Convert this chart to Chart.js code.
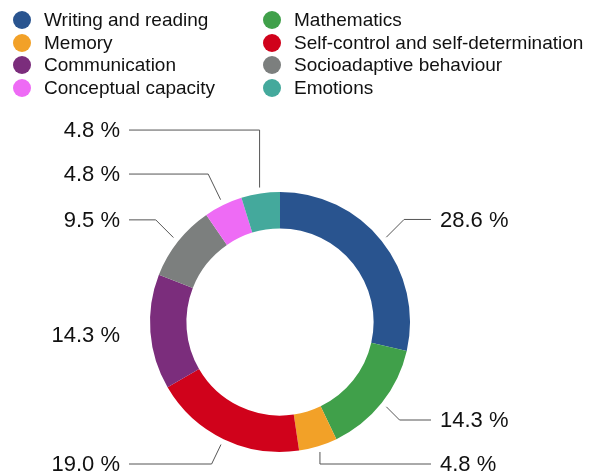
<!DOCTYPE html>
<html>
<head>
<meta charset="utf-8">
<script src="https://cdn.jsdelivr.net/npm/chart.js@4"></script>
<style>
  html, body { margin: 0; padding: 0; background: #fff; }
  #wrap { position: relative; width: 592px; height: 475px; overflow: hidden; }
  #c { position: absolute; left: 0; top: 0; }
  .lg { position: absolute; font-family: "Liberation Sans", Arial, Helvetica, sans-serif; font-size: 19px; color: #111; white-space: nowrap; line-height: 22px; }
  .lg .dot { position: absolute; left: 0; top: 2px; width: 18px; height: 18px; border-radius: 50%; }
  .lg .txt { position: absolute; left: 31px; top: 0; }
</style>
</head>
<body>
<div id="wrap">
  <canvas id="c" width="592" height="475"></canvas>
  <div id="legend"></div>
</div>
<script>
const categories = [
  "Writing and reading",
  "Mathematics",
  "Memory",
  "Self-control and self-determination",
  "Communication",
  "Socioadaptive behaviour",
  "Conceptual capacity",
  "Emotions"
];
const values = [28.6, 14.3, 4.8, 19.0, 14.3, 9.5, 4.8, 4.8];
const colors = ["#29548f", "#40a04a", "#f2a128", "#d0021b", "#7b2d7c", "#7c7f7e", "#ee6bf5", "#44a99c"];

// HTML legend: two columns, row-major
const legend = document.getElementById('legend');
categories.forEach((name, i) => {
  const row = Math.floor(i / 2), col = i % 2;
  const d = document.createElement('div');
  d.className = 'lg';
  d.style.left = (col === 0 ? 13 : 263) + 'px';
  d.style.top = (9 + row * 22.7) + 'px';
  d.innerHTML = '<span class="dot" style="background:' + colors[i] + '"></span><span class="txt"></span>';
  d.querySelector('.txt').textContent = name;
  legend.appendChild(d);
});

const outLabels = {
  id: 'outLabels',
  afterDraw(chart) {
    const ctx = chart.ctx;
    const meta = chart.getDatasetMeta(0);
    if (!meta.data.length) return;
    const cx = meta.data[0].x, cy = meta.data[0].y;
    const R = meta.data[0].outerRadius;
    const gap = 44, maxY = chart.height - 11, minY = 20;
    const items = meta.data.map((arc, i) => {
      const a = (arc.startAngle + arc.endAngle) / 2;
      const c = Math.cos(a), s = Math.sin(a);
      return { i, a, c, s, side: c >= 0 ? 1 : -1, y: cy + R * 1.265 * s };
    });
    [1, -1].forEach(side => {
      const list = items.filter(it => it.side === side).sort((p, q) => p.y - q.y);
      if (!list.length) return;
      list[list.length - 1].y = Math.min(list[list.length - 1].y, maxY);
      for (let k = list.length - 2; k >= 0; k--) {
        list[k].y = Math.min(list[k].y, list[k + 1].y - gap);
      }
      for (let k = 0; k < list.length; k++) {
        if (list[k].y < minY) list[k].y = minY;
        if (k > 0 && list[k].y < list[k - 1].y + gap) list[k].y = list[k - 1].y + gap;
      }
    });
    ctx.save();
    ctx.font = '22px "Liberation Sans", Arial, Helvetica, sans-serif';
    ctx.textBaseline = 'middle';
    ctx.strokeStyle = '#555';
    ctx.lineWidth = 1;
    items.forEach(it => {
      const p0x = cx + (R + 6) * it.c, p0y = cy + (R + 6) * it.s;
      const dy = it.y - p0y;
      let dx = 0;
      if (Math.abs(it.c) > 0.35 && Math.abs(it.s) > 0.05) {
        dx = it.side * Math.min(Math.abs(dy * it.c / it.s), Math.abs(dy));
      }
      const ex = p0x + dx, ey = it.y;
      const endX = cx + it.side * (R + 21);
      if (Math.abs(endX - ex) >= 20) {
        ctx.beginPath();
        ctx.moveTo(p0x, p0y);
        ctx.lineTo(ex, ey);
        ctx.lineTo(endX, ey);
        ctx.stroke();
      }
      ctx.fillStyle = '#111';
      ctx.textAlign = it.side > 0 ? 'left' : 'right';
      ctx.fillText(values[it.i].toFixed(1) + ' %', endX + it.side * 9, it.y + 1);
    });
    ctx.restore();
  }
};

new Chart(document.getElementById('c'), {
  type: 'doughnut',
  data: {
    labels: categories,
    datasets: [{
      data: values,
      backgroundColor: colors,
      borderWidth: 0
    }]
  },
  options: {
    responsive: false,
    animation: false,
    cutout: '72%',
    layout: { padding: { top: 192, bottom: 23, left: 150, right: 182 } },
    plugins: {
      legend: { display: false },
      tooltip: { enabled: false }
    }
  },
  plugins: [outLabels]
});
</script>
</body>
</html>
